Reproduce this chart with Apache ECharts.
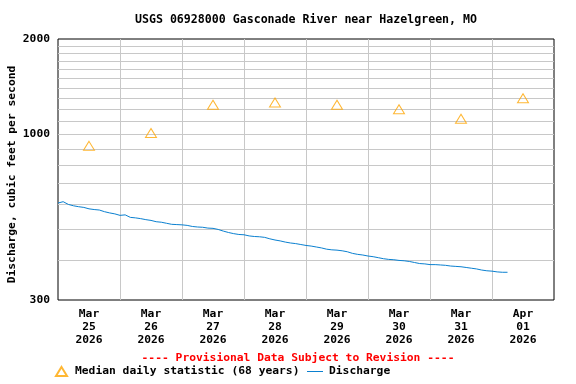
<!DOCTYPE html>
<html>
<head>
<meta charset="utf-8">
<script src="https://cdn.jsdelivr.net/npm/echarts@6/dist/echarts.min.js"></script>
<style>html,body{margin:0;padding:0;background:#fff;}#c{width:576px;height:384px;}</style>
</head>
<body>
<div id="c"></div>
<script>
// ---- data ----
const titleText = 'USGS 06928000 Gasconade River near Hazelgreen, MO';
const noteText = '---- Provisional Data Subject to Revision ----';
const yAxisTitle = 'Discharge, cubic feet per second';
const days = ['2026-03-25','2026-03-26','2026-03-27','2026-03-28','2026-03-29','2026-03-30','2026-03-31','2026-04-01'];
const axisEnd = '2026-04-02';
const medianName = 'Median daily statistic (68 years)';
const medianValues = [920, 1010, 1240, 1260, 1240, 1200, 1120, 1300];
const dischargeName = 'Discharge';
const dischargeStart = '2026-03-25T00:00:00Z';
const dischargeStepHours = 2;
const dischargeValues = [
  607, 613, 601, 595, 591, 588, 582, 579, 577, 570, 565, 561,
  555, 557, 547, 545, 542, 538, 535, 530, 528, 524, 520, 519,
  518, 516, 512, 510, 509, 506, 505, 501, 495, 490, 486, 483,
  482, 478, 476, 475, 473, 468, 464, 461, 457, 454, 452, 449,
  446, 444, 441, 438, 434, 432, 431, 429, 426, 421, 418, 416,
  413, 411, 408, 405, 403, 402, 400, 399, 397, 394, 391, 390,
  388, 388, 387, 386, 384, 383, 382, 380, 378, 376, 373, 371,
  370, 368, 367, 367
];
const yMin = 300, yMax = 2000;
const yLabelValues = [300, 1000, 2000];
const yGridValues = [300,400,500,600,700,800,900,1000,1100,1200,1300,1400,1500,1600,1700,1800,1900,2000];
const monthNames = ['Jan','Feb','Mar','Apr','May','Jun','Jul','Aug','Sep','Oct','Nov','Dec'];

// ---- build ----
const HOUR = 3600000, DAY = 86400000;
const dayStart = d => Date.parse(d + 'T00:00:00Z');
const dayNoon = d => Date.parse(d + 'T12:00:00Z');
const xMin = dayStart(days[0]);
const xMax = dayStart(axisEnd);
const xLabelValues = days.map(dayNoon);
const t0 = Date.parse(dischargeStart);
const dischargeData = dischargeValues.map((v, i) => [t0 + i * dischargeStepHours * HOUR, v]);
const medianData = medianValues.map((v, i) => [dayNoon(days[i]), v]);

const FONT = 'DejaVu Sans Mono';
const txt = { fontFamily: FONT, fontWeight: 'bold', fontSize: 11.3, color: '#000' };

const chart = echarts.init(document.getElementById('c'), null, { renderer: 'canvas' });
chart.setOption({
  animation: false,
  backgroundColor: '#fff',
  grid: { left: 58, right: 22, top: 39, bottom: 84, containLabel: false, outerBoundsMode: 'none',
          show: true, borderColor: '#000', borderWidth: 1, backgroundColor: 'transparent' },
  graphic: [
    { type: 'text', x: 306, y: 20, style: { text: titleText, font: 'bold 11.6px "' + FONT + '"', fill: '#000', textAlign: 'center', textVerticalAlign: 'middle' } },
    { type: 'text', x: 298, y: 358, style: { text: noteText, font: 'bold 11.3px "' + FONT + '"', fill: '#ff0000', textAlign: 'center', textVerticalAlign: 'middle' } }
  ],
  legend: [
    { data: [medianName], left: 55, top: 366, padding: 0, itemWidth: 11, itemHeight: 9, itemGap: 0, textStyle: Object.assign({}, txt, { padding: [0,0,0,3] }) },
    { data: [{ name: dischargeName, icon: 'rect' }], left: 307, top: 366, padding: 0, itemWidth: 16, itemHeight: 1, itemGap: 0, textStyle: Object.assign({}, txt, { padding: [0,0,0,1] }) }
  ],
  xAxis: {
    type: 'value', min: xMin, max: xMax, interval: DAY,
    axisLine: { show: false },
    axisTick: { show: false },
    splitLine: { show: true, showMinLine: false, showMaxLine: false, lineStyle: { color: '#c8c8c8', width: 1 } },
    axisLabel: {
      customValues: xLabelValues, margin: 8, lineHeight: 13, align: 'center',
      fontFamily: FONT, fontWeight: 'bold', fontSize: 11.3, color: '#000',
      formatter: function (v) {
        const d = new Date(v);
        return monthNames[d.getUTCMonth()] + '\n' + String(d.getUTCDate()).padStart(2, '0') + '\n' + d.getUTCFullYear();
      }
    }
  },
  yAxis: {
    type: 'log', logBase: 10, min: yMin, max: yMax,
    name: yAxisTitle, nameLocation: 'middle', nameGap: 40, nameMoveOverlap: false,
    nameTextStyle: Object.assign({}, txt, { padding: [0, 10, 0, 0] }),
    axisLine: { show: false },
    axisTick: { show: false, customValues: yGridValues },
    splitLine: { show: true, showMinLine: false, showMaxLine: false, lineStyle: { color: '#c8c8c8', width: 1 } },
    axisLabel: { customValues: yLabelValues, margin: 8, fontFamily: FONT, fontWeight: 'bold', fontSize: 11.3, color: '#000',
                 formatter: function (v) { return String(Math.round(v)); } }
  },
  series: [
    {
      name: medianName, type: 'scatter', data: medianData,
      symbol: 'triangle', symbolSize: [11, 9],
      itemStyle: { color: 'rgba(255,255,255,0)', borderColor: '#ffa500', borderWidth: 1 },
      z: 3
    },
    {
      name: dischargeName, type: 'line', data: dischargeData,
      symbol: 'none', showSymbol: false,
      lineStyle: { color: '#0a80d0', width: 1 },
      itemStyle: { color: '#0a80d0' },
      z: 2
    }
  ]
});
</script>
</body>
</html>
